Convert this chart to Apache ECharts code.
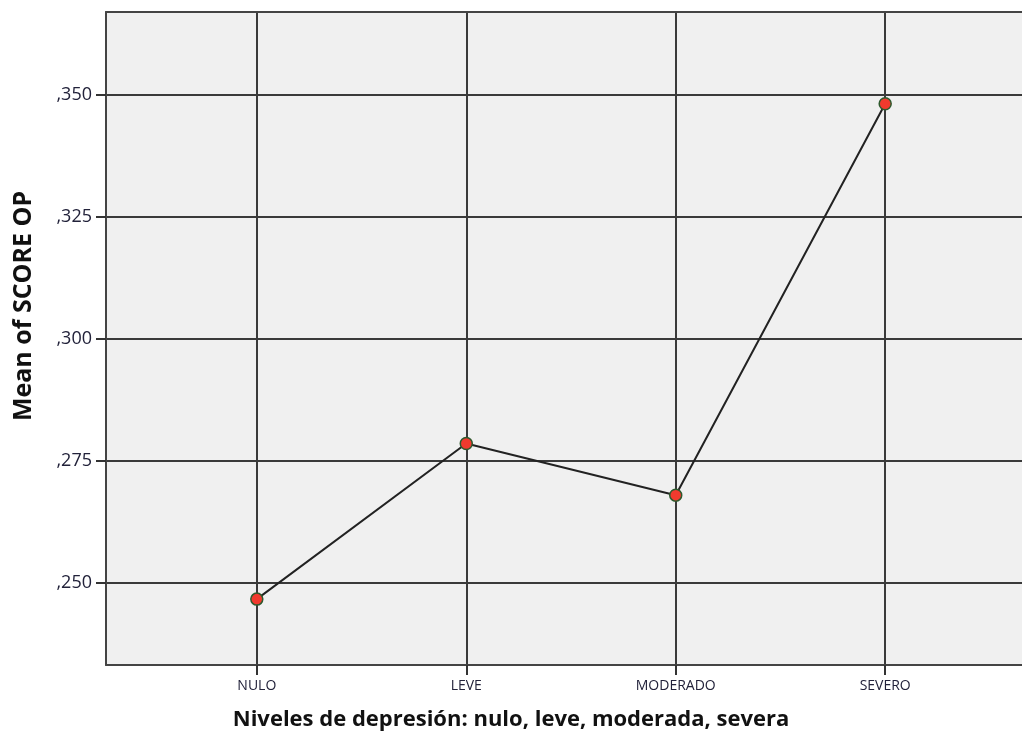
<!DOCTYPE html>
<html>
<head>
<meta charset="utf-8">
<script src="https://cdn.jsdelivr.net/npm/echarts@6/dist/echarts.min.js"></script>
<style>
html,body{margin:0;padding:0;background:#fff;}
#chart{width:1022px;height:738px;}
</style>
</head>
<body>
<div id="chart"></div>
<script>
const categories = ['NULO', 'LEVE', 'MODERADO', 'SEVERO'];
const meanValues = [0.2466, 0.2785, 0.2679, 0.3481];
const yTicks = [0.250, 0.275, 0.300, 0.325, 0.350];
const xTitle = 'Niveles de depresión: nulo, leve, moderada, severa';
const yTitle = 'Mean of SCORE OP';

const xIdx = categories.map((c, i) => i);
const seriesData = categories.map((c, i) => [i, meanValues[i]]);

const chart = echarts.init(document.getElementById('chart'), null, {renderer: 'canvas'});
chart.setOption({
  animation: false,
  backgroundColor: '#ffffff',
  grid: {
    left: 106, top: 12, width: 930, height: 653,
    outerBoundsMode: 'none',
    containLabel: false,
    show: true, backgroundColor: '#f0f0f0', borderWidth: 0
  },
  graphic: [{
    type: 'text',
    x: 24, y: 306,
    rotation: Math.PI / 2,
    style: {
      text: yTitle,
      fontFamily: 'Open Sans', fontWeight: 'bold', fontSize: 25, fill: '#111111',
      align: 'center', verticalAlign: 'middle'
    }
  }, {
    type: 'text',
    x: 511, y: 720,
    style: {
      text: xTitle,
      fontFamily: 'Open Sans', fontWeight: 'bold', fontSize: 22, fill: '#111111',
      align: 'center', verticalAlign: 'middle'
    }
  }],
  xAxis: [{
    type: 'value',
    min: -0.72, max: 3.72,
    axisLine: {show: true, onZero: false, lineStyle: {color: '#444444', width: 2}},
    axisTick: {show: true, customValues: xIdx, length: 10, lineStyle: {color: '#333333', width: 2}},
    axisLabel: {
      customValues: xIdx,
      formatter: v => categories[Math.round(v)] || '',
      fontFamily: 'Open Sans', fontSize: 14, color: '#22223a', margin: 14
    },
    splitLine: {show: true, lineStyle: {color: '#3a3a3a', width: 2}}
  }, {
    type: 'value',
    position: 'top',
    min: -0.72, max: 3.72,
    axisLine: {show: true, onZero: false, lineStyle: {color: '#444444', width: 2}},
    axisTick: {show: false},
    axisLabel: {show: false},
    splitLine: {show: false}
  }],
  yAxis: {
    type: 'value',
    min: 0.2331, max: 0.3669,
    axisLine: {show: true, onZero: false, lineStyle: {color: '#444444', width: 2}},
    axisTick: {show: true, customValues: yTicks, length: 10, lineStyle: {color: '#333333', width: 2}},
    axisLabel: {
      customValues: yTicks,
      formatter: v => ',' + Math.round(v * 1000).toString().padStart(3, '0'),
      fontFamily: 'Open Sans', fontSize: 18, color: '#22223a', margin: 14
    },
    splitLine: {show: true, lineStyle: {color: '#3a3a3a', width: 2}}
  },
  series: [{
    type: 'line',
    data: seriesData,
    symbol: 'circle',
    symbolSize: 12,
    lineStyle: {color: '#222222', width: 2},
    itemStyle: {color: '#f03a2e', borderColor: '#2e5a2e', borderWidth: 1.5},
    z: 5
  }]
});
</script>
</body>
</html>
